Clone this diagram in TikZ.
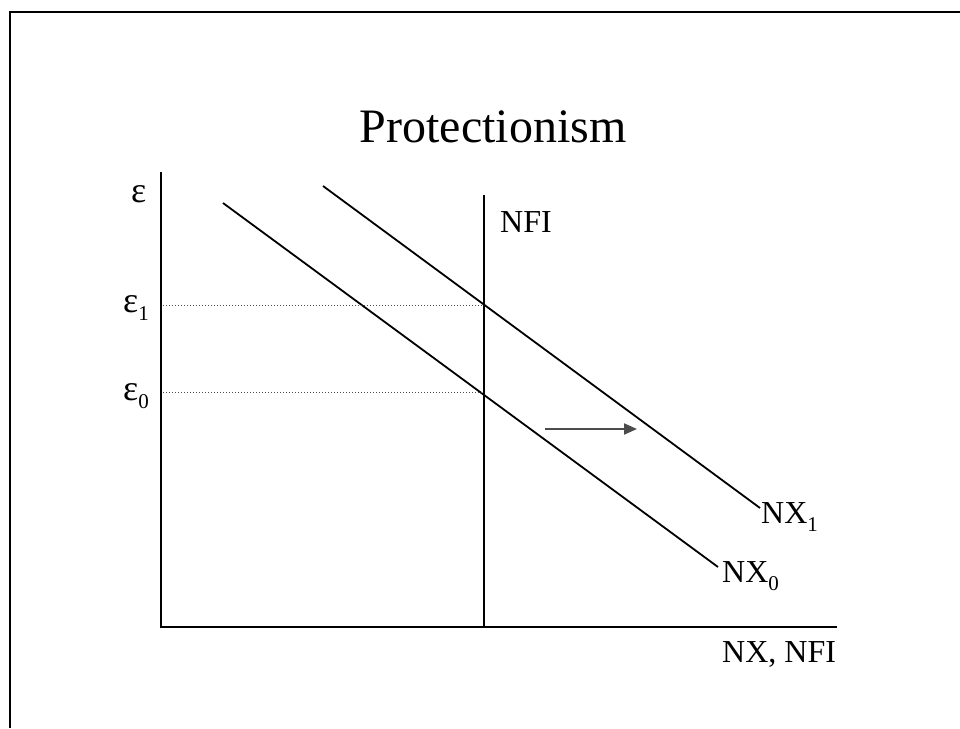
\documentclass[tikz,border=0pt]{standalone}
\usepackage{fontspec}
\setmainfont{Liberation Serif}
\usetikzlibrary{arrows.meta}
\newcommand{\lowsub}[1]{\raisebox{-0.28em}{\fontsize{21}{21}\selectfont #1}}
\newcommand{\bigeps}{{\fontsize{36}{36}\selectfont ε}}
\tikzset{
  lbl/.style={anchor=base west, inner sep=0pt, font=\fontsize{32}{32}\selectfont},
  axisline/.style={line width=2.6pt, line cap=rect},
  curve/.style={line width=1.8pt},
  guide/.style={line width=1pt, dotted, draw=black!70},
  shiftarrow/.style={line width=2pt, draw=black!70, -{Triangle[length=13pt,width=11pt]}}
}
\begin{document}
\begin{tikzpicture}[x=1pt,y=-1pt]
\useasboundingbox (0,0) rectangle (960,728);
% frame
\coordinate (fb) at (10,728);
\coordinate (ftl) at (10,12);
\coordinate (ftr) at (960,12);
\draw[line width=2pt] (fb) -- (ftl) -- (ftr);
% title
\node[anchor=base, inner sep=0pt, font=\fontsize{48}{48}\selectfont] (title) at (493,142) {Protectionism};
% axes
\coordinate (ytop) at (161,173);
\coordinate (o) at (161,627);
\coordinate (xend) at (836,627);
\draw[axisline] (ytop) -- (o) -- (xend);
% NFI
\coordinate (nfitop) at (484,195);
\coordinate (nfibot) at (484,627);
\draw[curve, line width=2.2pt] (nfitop) -- (nfibot);
% NX curves
\coordinate (a0) at (223,203);
\coordinate (b0) at (718,567);
\coordinate (a1) at (323,186);
\coordinate (b1) at (760,508);
\draw[curve] (a0) -- (b0);
\draw[curve] (a1) -- (b1);
% guides
\coordinate (e1l) at (163,305);
\coordinate (e1r) at (484,305);
\coordinate (e0l) at (163,392);
\coordinate (e0r) at (484,392);
\draw[guide] (e1l) -- (e1r);
\draw[guide] (e0l) -- (e0r);
% shift arrow
\coordinate (sa) at (545,429);
\coordinate (sb) at (637,429);
\draw[shiftarrow] (sa) -- (sb);
% labels
\node[lbl] (eps) at (131,202) {\bigeps};
\node[lbl] (eps1) at (123,312) {\bigeps\lowsub{1}};
\node[lbl] (eps0) at (123,400) {\bigeps\lowsub{0}};
\node[lbl] (nfil) at (500,232) {NFI};
\node[lbl] (nx1) at (761,523) {NX\lowsub{1}};
\node[lbl] (nx0) at (722,582) {NX\lowsub{0}};
\node[lbl] (xlab) at (722,662) {NX, NFI};
\end{tikzpicture}
\end{document}
